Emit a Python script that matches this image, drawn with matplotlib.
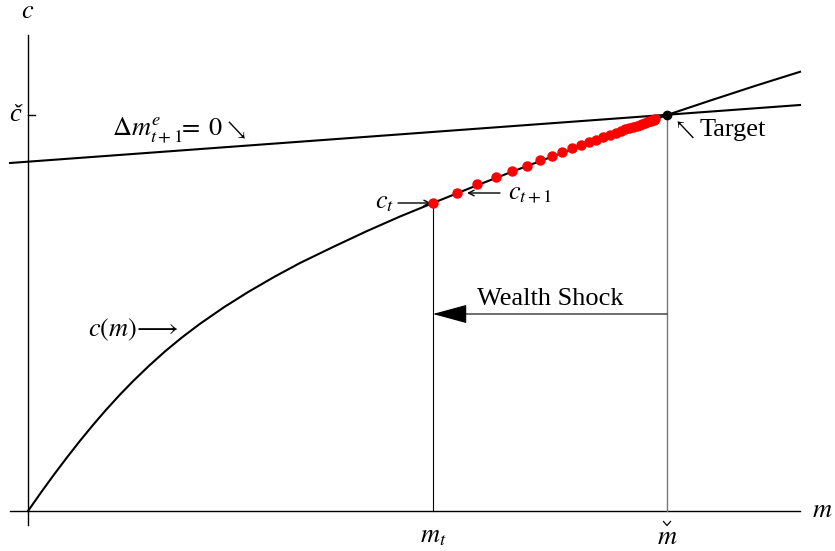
import matplotlib
matplotlib.use("Agg")
import matplotlib.pyplot as plt

plt.rcParams["mathtext.fontset"] = "stix"
plt.rcParams["font.family"] = ["Liberation Serif", "DejaVu Serif"]

# consumption function c(m)
m_grid = [0.0, 0.13, 0.26, 0.39, 0.52, 0.65, 0.78, 0.92, 1.05, 1.21,
          1.37, 1.54, 1.72, 1.96, 2.20, 2.46, 2.72, 3.05, 3.38, 3.72,
          4.05, 4.44, 4.83, 5.22, 5.61, 6.00, 6.39, 6.83, 7.28, 7.72]
c_grid = [0.0, 0.185, 0.364, 0.536, 0.702, 0.86, 1.011, 1.164, 1.298, 1.452,
          1.596, 1.736, 1.872, 2.038, 2.189, 2.34, 2.48, 2.64, 2.795, 2.945,
          3.08, 3.237, 3.389, 3.536, 3.678, 3.817, 3.96, 4.107, 4.254, 4.392]

# the Delta m = 0 locus (end points)
m_locus = [-0.18, 7.72]
c_locus = [3.48, 4.06]

# target and post-shock point
m_target, c_target = 6.39, 3.96
m_t, c_t = 4.05, 3.08

# path of (m, c) after the wealth shock
m_path = [4.053, 4.287, 4.493, 4.677, 4.843, 4.993, 5.12, 5.24, 5.343, 5.443,
          5.527, 5.61, 5.683, 5.754, 5.817, 5.875, 5.926, 5.973, 6.014, 6.052,
          6.086, 6.116, 6.144, 6.168, 6.19, 6.21, 6.228, 6.244, 6.259, 6.27]
c_path = [3.083, 3.183, 3.267, 3.337, 3.403, 3.45, 3.507, 3.553, 3.593, 3.627,
          3.66, 3.687, 3.713, 3.741, 3.762, 3.782, 3.80, 3.816, 3.83, 3.843,
          3.855, 3.865, 3.875, 3.883, 3.891, 3.898, 3.904, 3.91, 3.915, 3.919]

fig = plt.figure(figsize=(8.35, 5.51), dpi=100)
ax = fig.add_axes([0, 0, 1, 1])
ax.set_xlim(-0.28, 8.07)
ax.set_ylim(-0.40, 5.11)
ax.axis("off")

fs = 19

# axes
ax.plot([-0.18, 7.72], [0, 0], color="black", lw=1.0)
ax.plot([0, 0], [-0.14, 4.76], color="black", lw=1.0)
ax.plot([0, 0.07], [c_target, c_target], color="black", lw=1.0)
ax.text(0.0, 4.99, r"$c$", fontsize=fs, ha="center", va="center")
ax.text(7.94, 0.0, r"$m$", fontsize=fs, ha="center", va="center")

# c-check and m-check labels
ax.text(-0.13, c_target, "\u010d", fontsize=fs, style="italic",
        ha="center", va="center")
ax.text(m_t, -0.26, r"$m_t$", fontsize=fs, ha="center", va="center")
ax.text(m_target, -0.27, r"$m$", fontsize=fs, ha="center", va="center")
# caron over the m-check label
ax.plot([m_target - 0.035, m_target, m_target + 0.035], [-0.105, -0.145, -0.105],
        color="black", lw=0.9)

# curves
ax.plot(m_grid, c_grid, color="black", lw=1.5)
ax.plot(m_locus, c_locus, color="black", lw=1.5)

# vertical guides
ax.plot([m_t, m_t], [0, c_t], color="black", lw=0.8)
ax.plot([m_target, m_target], [0, c_target], color="#777777", lw=1.0)

# path and target
ax.plot(m_path, c_path, "o", color="red", ms=6.5, mec="red", zorder=4)
ax.plot([m_target], [c_target], "o", color="black", ms=6, zorder=5)

# wealth shock arrow
ax.annotate("", xy=(m_t, 1.97), xytext=(m_target, 1.97),
            arrowprops=dict(arrowstyle="-|>,head_length=2.2,head_width=0.6",
                            color="black", lw=0.8, shrinkA=0, shrinkB=0))
ax.text(5.22, 2.12, "Wealth Shock", fontsize=fs, ha="center", va="center")

# labels with arrows
ax.annotate("", xy=(4.03, c_t), xytext=(3.70, c_t),
            arrowprops=dict(arrowstyle="->", color="black", lw=1.0,
                            shrinkA=0, shrinkB=0))
ax.text(3.57, c_t, r"$c_t$", fontsize=fs, ha="center", va="center")

ax.annotate("", xy=(4.39, 3.18), xytext=(4.72, 3.18),
            arrowprops=dict(arrowstyle="->", color="black", lw=1.0,
                            shrinkA=0, shrinkB=0))
ax.text(4.80, 3.16, r"$c_{t+1}$", fontsize=fs, ha="left", va="center")

ax.text(0.60, 1.81, r"$c(m)\!\longrightarrow$", fontsize=fs, ha="left", va="center")
ax.text(0.84, 3.81, r"$\Delta m^{e}_{t+1}\!\!=\;0$", fontsize=fs,
        ha="left", va="center")
ax.text(2.06, 3.81, r"$\searrow$", fontsize=15, ha="center", va="center")
ax.text(6.55, 3.81, r"$\nwarrow$", fontsize=15, ha="center", va="center")
ax.text(6.72, 3.81, "Target", fontsize=fs, ha="left", va="center")

fig.savefig("out.png", dpi=100)
